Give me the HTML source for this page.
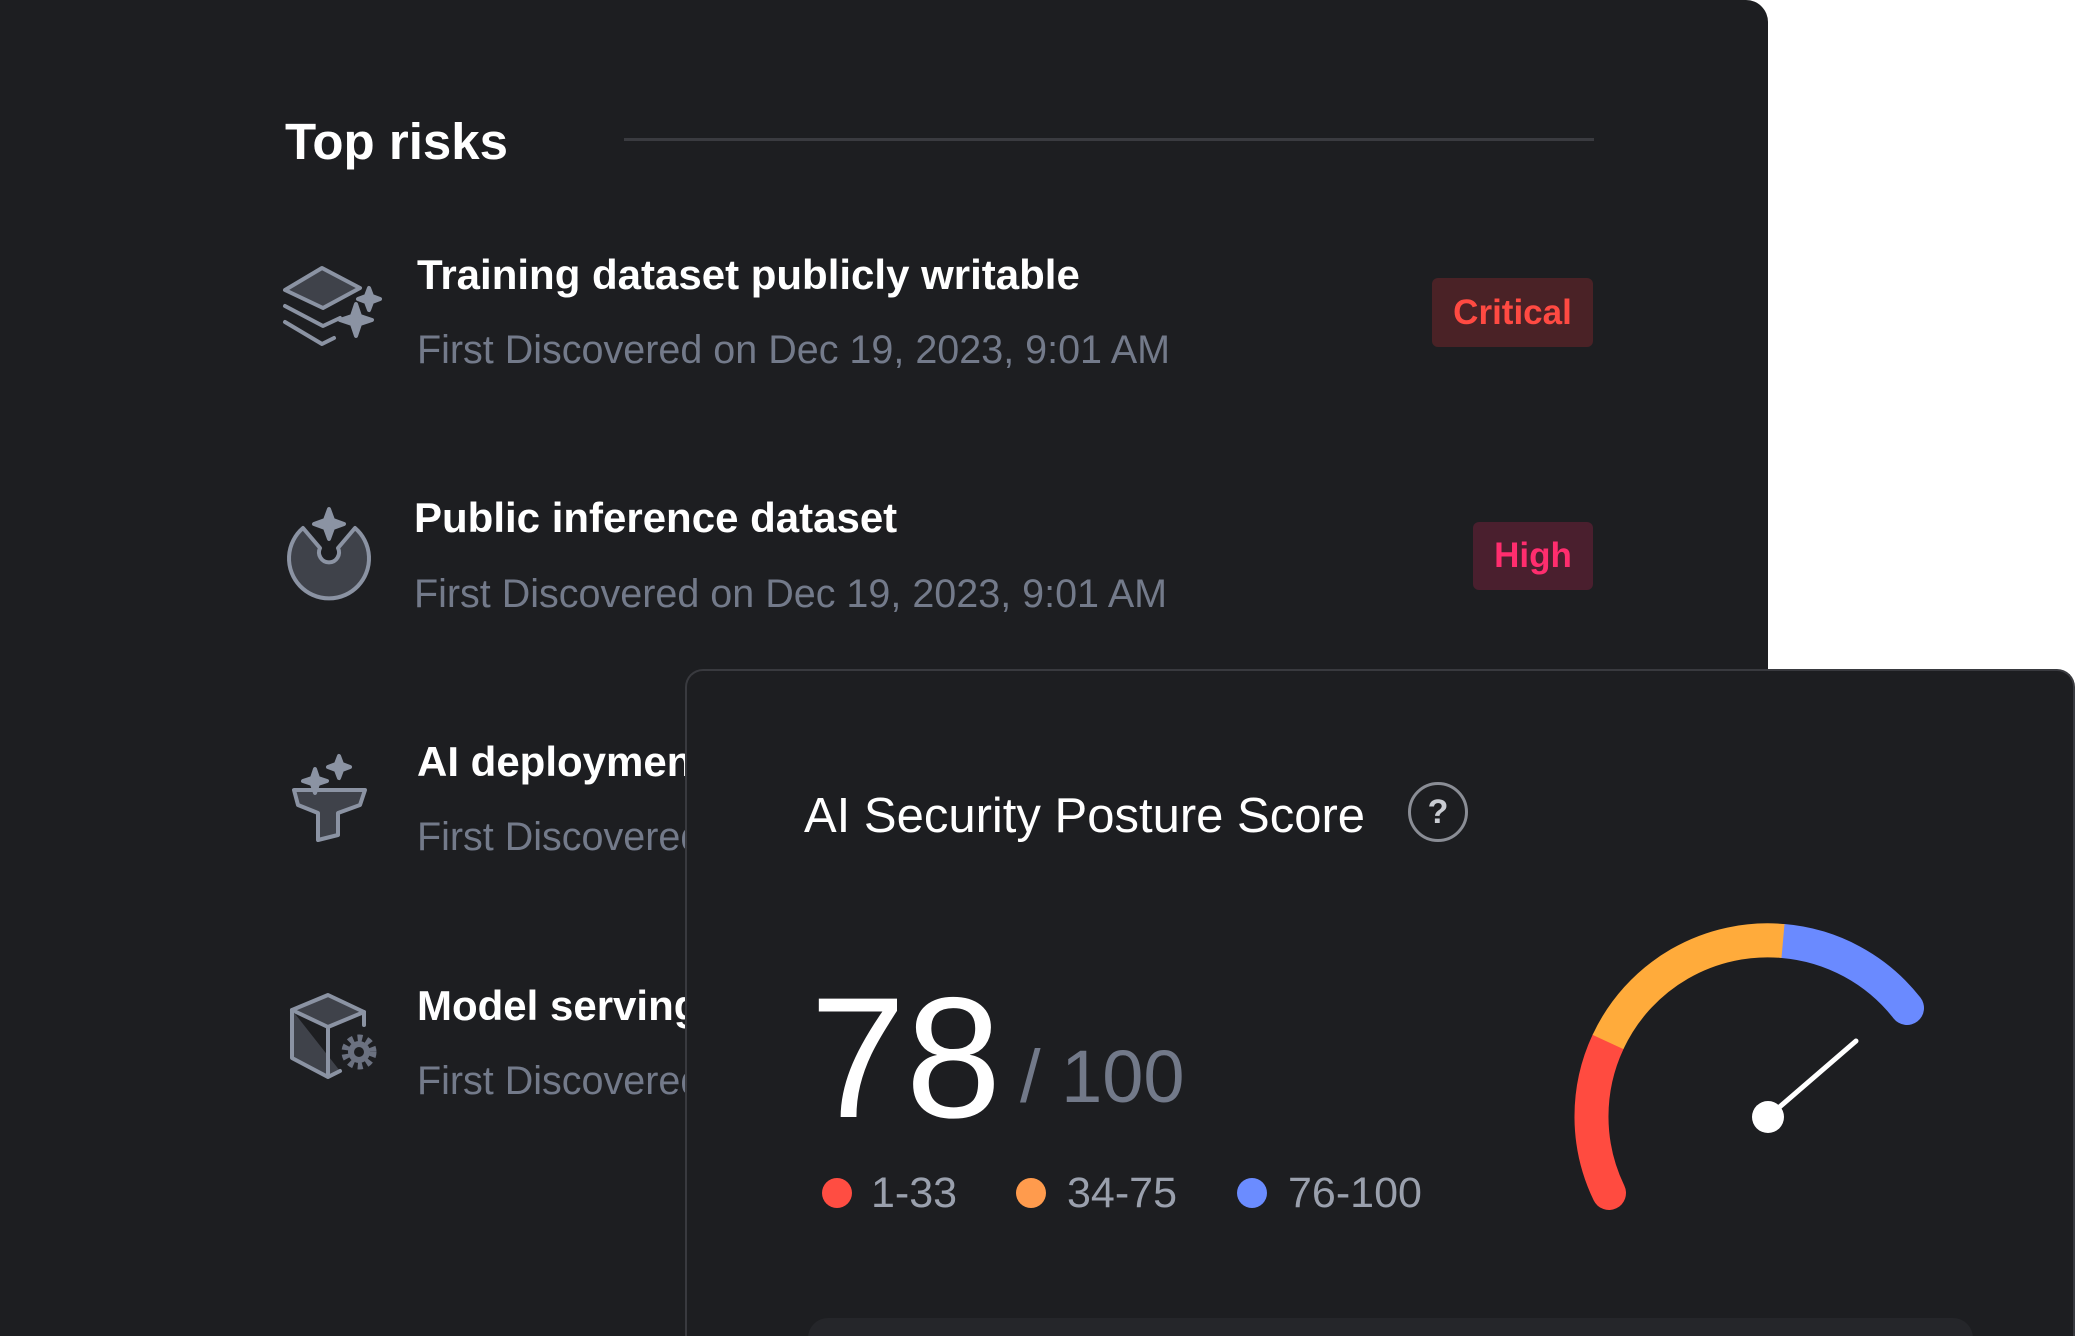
<!DOCTYPE html>
<html><head><meta charset="utf-8"><style>
*{margin:0;padding:0;box-sizing:border-box}
html,body{width:2076px;height:1336px;overflow:hidden}
body{background:#fff;position:relative;font-family:"Liberation Sans",sans-serif}
.panel{position:absolute;left:0;top:0;width:1768px;height:1336px;background:#1d1e21;border-top-right-radius:22px}
.t{position:absolute;white-space:nowrap;line-height:1}
.title{color:#fff;font-weight:bold;font-size:42px}
.sub{color:#737a8a;font-size:39.5px}
.badge{position:absolute;border-radius:6px;font-weight:bold;font-size:35px;display:flex;align-items:center;justify-content:center}
.card{position:absolute;left:685px;top:669px;width:1390px;height:667px;background:#1d1e21;border:2px solid #393a3f;border-bottom:none;border-top-left-radius:18px;border-top-right-radius:18px}
</style></head><body>
<div class="panel"></div>
<div class="t" style="left:285px;top:116px;color:#fff;font-weight:bold;font-size:51px">Top risks</div>
<div style="position:absolute;left:624px;top:138px;width:970px;height:3px;background:#3a3b40"></div>

<div class="t title" style="left:417px;top:254px">Training dataset publicly writable</div>
<div class="t sub" style="left:417px;top:331px">First Discovered on Dec 19, 2023, 9:01 AM</div>
<div class="badge" style="left:1432px;top:278px;width:161px;height:69px;background:#4a2226;color:#ff4a42">Critical</div>

<div class="t title" style="left:414px;top:497px">Public inference dataset</div>
<div class="t sub" style="left:414px;top:575px">First Discovered on Dec 19, 2023, 9:01 AM</div>
<div class="badge" style="left:1473px;top:522px;width:120px;height:68px;background:#4a1f2e;color:#ff2d6e">High</div>

<div class="t title" style="left:417px;top:741px">AI deployment</div>
<div class="t sub" style="left:417px;top:818px">First Discovered</div>
<div class="t title" style="left:417px;top:985px">Model serving</div>
<div class="t sub" style="left:417px;top:1062px">First Discovered</div>

<svg style="position:absolute;left:0;top:0" width="700" height="1200">
<g fill="#3f424a" stroke="#8b93a3" stroke-width="4" stroke-linejoin="round" stroke-linecap="round">
<!-- icon1 -->
<path d="M285 290 L322 268 L360 288 L323 308 Z"/>
<path d="M285 306 L323 326 L340 318" fill="none"/>
<path d="M285 322 L322 344 L334 338" fill="none"/>
<path d="M352 316 l4 -12 l4 12 l12 4 l-12 4 l-4 12 l-4 -12 l-12 -4 Z" fill="#8b93a3"/>
<path d="M366 296 l3 -8 l3 8 l8 3 l-8 3 l-3 8 l-3 -8 l-8 -3 Z" fill="#8b93a3"/>
<!-- icon2 -->
<path d="M303 528 A40 40 0 1 0 355 528 L338 548 A10 10 0 1 1 320 548 Z"/>
<path d="M329 509 l4 11 l11 4 l-11 4 l-4 11 l-4 -11 l-11 -4 l11 -4 Z" fill="#8b93a3"/>
<!-- icon3 -->
<path d="M294 790 L365 790 L360 805 L338 813 L338 835 L318 840 L318 813 L298 805 Z"/>
<path d="M312 778 l3 -9 l3 9 l9 3 l-9 3 l-3 9 l-3 -9 l-9 -3 Z" fill="#8b93a3"/>
<path d="M336 764 l3 -8 l3 8 l8 3 l-8 3 l-3 8 l-3 -8 l-8 -3 Z" fill="#8b93a3"/>
<!-- icon4 -->
<path d="M292 1010 L328 995 L364 1012 L328 1027 Z"/>
<path d="M292 1010 L292 1058 L328 1077 L340 1071 M328 1027 L328 1077 M364 1012 L364 1025"/>
</g>
<circle cx="359" cy="1052" r="13" fill="none" stroke="#6b7180" stroke-width="9" stroke-dasharray="4.5 4"/>
<circle cx="359" cy="1052" r="11" fill="#6b7180"/><circle cx="359" cy="1052" r="5" fill="#1d1e21"/>
</svg>

<div class="card"></div>
<div style="position:absolute;left:808px;top:1318px;width:1165px;height:40px;background:#25262a;border-radius:20px"></div>
<div class="t" style="left:804px;top:792px;color:#fff;font-size:49px">AI Security Posture Score</div>
<div style="position:absolute;left:1408px;top:782px;width:60px;height:60px;border:3px solid #8a8d95;border-radius:50%;color:#c9ccd2;font-size:34px;font-weight:bold;display:flex;align-items:center;justify-content:center">?</div>
<div class="t" style="left:810px;top:972px;color:#fff;font-size:172px">78</div>
<div class="t" style="left:1020px;top:1040px;color:#727989;font-size:74px">/ 100</div>
<svg style="position:absolute;left:0;top:0" width="2076" height="1336">
<circle cx="837" cy="1193" r="15" fill="#ff4d42"/>
<circle cx="1031" cy="1193" r="15" fill="#ff9b4d"/>
<circle cx="1252" cy="1193" r="15" fill="#6b8cff"/>
<text x="871" y="1207" font-family="Liberation Sans" font-size="43" fill="#9aa0ad">1-33</text>
<text x="1067" y="1207" font-family="Liberation Sans" font-size="43" fill="#9aa0ad">34-75</text>
<text x="1288" y="1207" font-family="Liberation Sans" font-size="43" fill="#9aa0ad">76-100</text>
<g fill="none" stroke-width="34">
<path d="M1609 1193 A176 176 0 0 1 1608 1042" stroke="#ff4b40" stroke-linecap="round"/>
<path d="M1783 941 A176 176 0 0 1 1907 1008" stroke="#6a8aff" stroke-linecap="round"/>
<path d="M1608 1042 A176 176 0 0 1 1783 941" stroke="#ffab3b"/>
</g>
<line x1="1768" y1="1117" x2="1856" y2="1041" stroke="#fff" stroke-width="5" stroke-linecap="round"/>
<circle cx="1768" cy="1117" r="16" fill="#fff"/>
</svg>
</body></html>
